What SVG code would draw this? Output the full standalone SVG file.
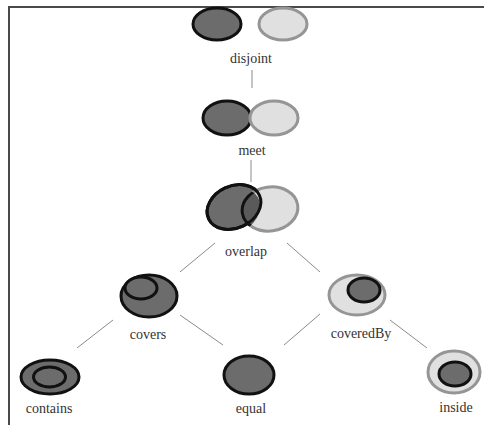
<svg xmlns="http://www.w3.org/2000/svg" width="484" height="425" viewBox="0 0 484 425">
<style>
.dk{fill:#6c6c6c;stroke:#111;stroke-width:3}
.lt{fill:#e0e0e0;stroke:#959595;stroke-width:3}
.lb{font-family:"Liberation Serif",serif;font-size:14px;fill:#333;text-anchor:middle}
.cn{stroke:#8a8a8a;stroke-width:1;fill:none}
</style>
<defs>
<clipPath id="clipDark"><ellipse cx="234" cy="207" rx="28" ry="21" transform="rotate(-25 234 207)"/></clipPath>
</defs>
<rect x="0" y="0" width="484" height="425" fill="#fff"/>
<path d="M9 425V7H484" fill="none" stroke="#4a4a4a" stroke-width="2"/>
<g id="connectors">
<line class="cn" x1="252" y1="70" x2="252" y2="88"/>
<line class="cn" x1="251" y1="160" x2="251" y2="182"/>
<line class="cn" x1="215" y1="243" x2="180" y2="272"/>
<line class="cn" x1="287" y1="243" x2="320" y2="272"/>
<line class="cn" x1="113" y1="320" x2="77" y2="348"/>
<line class="cn" x1="180" y1="315" x2="223" y2="345"/>
<line class="cn" x1="320" y1="314" x2="284" y2="345"/>
<line class="cn" x1="390" y1="320" x2="427" y2="348"/>
</g>
<g id="disjoint">
<ellipse class="dk" cx="217" cy="24" rx="24" ry="16"/>
<ellipse class="lt" cx="283" cy="24" rx="24" ry="16"/>
<text class="lb" x="251" y="63">disjoint</text>
</g>
<g id="meet">
<ellipse class="dk" cx="227" cy="118" rx="24" ry="17"/>
<ellipse class="lt" cx="274" cy="118" rx="24" ry="17"/>
<text class="lb" x="252" y="155">meet</text>
</g>
<g id="overlap">
<ellipse class="dk" cx="234" cy="207" rx="28" ry="21" transform="rotate(-25 234 207)"/>
<ellipse class="lt" cx="270" cy="209" rx="28" ry="22" transform="rotate(-8 270 209)"/>
<ellipse cx="270" cy="209" rx="28" ry="22" transform="rotate(-8 270 209)" clip-path="url(#clipDark)" fill="#5a5a5a" stroke="#111" stroke-width="3"/>
<ellipse cx="234" cy="207" rx="28" ry="21" transform="rotate(-25 234 207)" fill="none" stroke="#111" stroke-width="3"/>
<text class="lb" x="246" y="256">overlap</text>
</g>
<g id="covers">
<ellipse class="dk" cx="149" cy="296" rx="28" ry="21"/>
<ellipse class="dk" cx="141" cy="288" rx="16" ry="11"/>
<text class="lb" x="148" y="339">covers</text>
</g>
<g id="coveredBy">
<ellipse class="lt" cx="357" cy="295" rx="28" ry="20"/>
<ellipse class="dk" cx="364" cy="290" rx="16" ry="12"/>
<text class="lb" x="361" y="338">coveredBy</text>
</g>
<g id="contains">
<ellipse class="dk" cx="50" cy="377" rx="29" ry="17"/>
<ellipse class="dk" cx="49.5" cy="377" rx="16" ry="10"/>
<text class="lb" x="49" y="413">contains</text>
</g>
<g id="equal">
<ellipse class="dk" cx="249" cy="375" rx="25" ry="19"/>
<text class="lb" x="251" y="413">equal</text>
</g>
<g id="inside">
<ellipse class="lt" cx="454" cy="372" rx="26" ry="21"/>
<ellipse class="dk" cx="455" cy="374" rx="16" ry="12"/>
<text class="lb" x="456" y="412">inside</text>
</g>
</svg>
